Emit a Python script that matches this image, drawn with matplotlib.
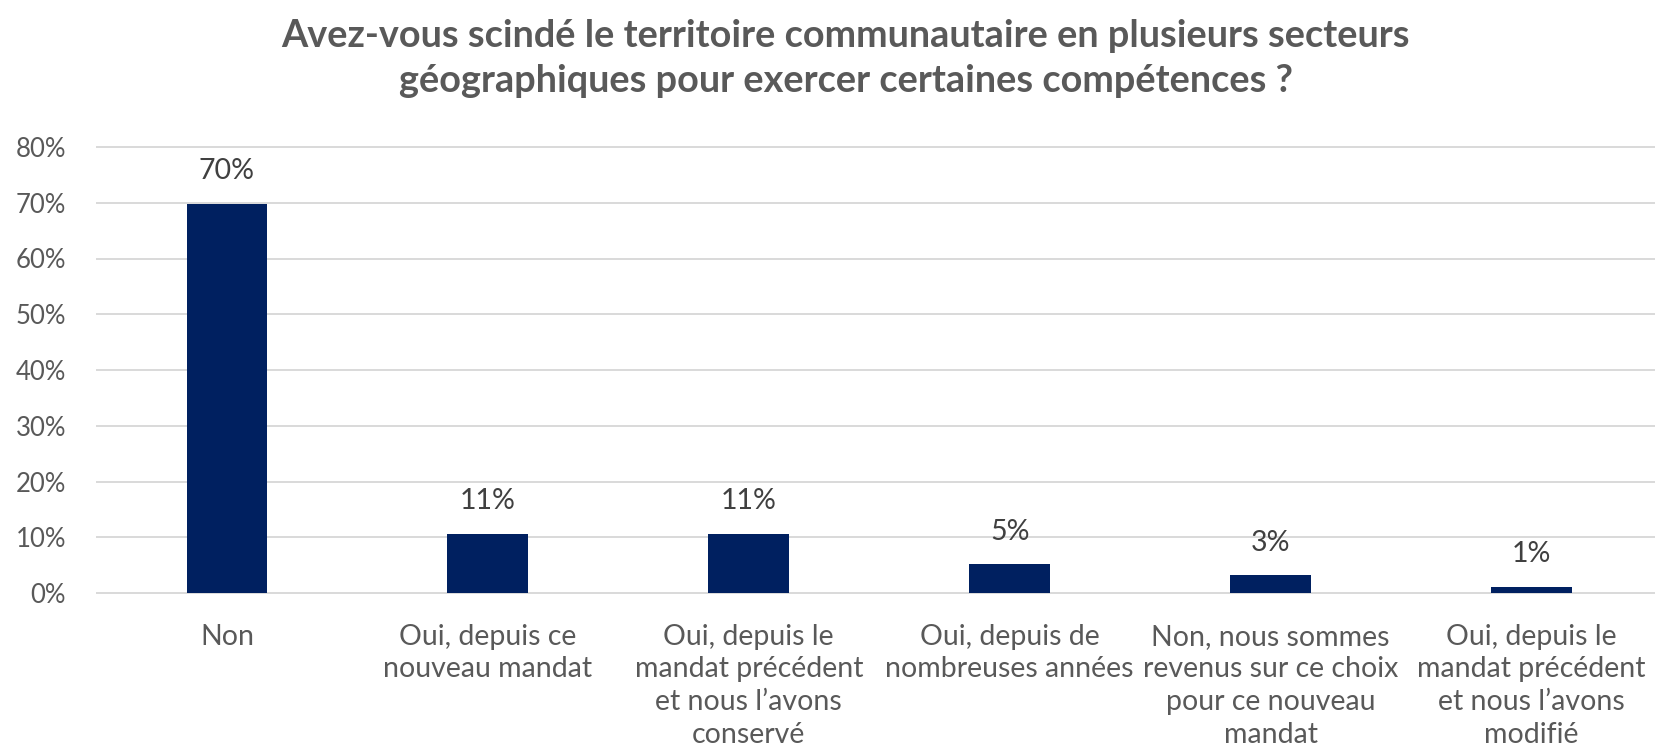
import matplotlib
matplotlib.use("Agg")
import matplotlib.pyplot as plt
from matplotlib.ticker import PercentFormatter

categories = [
    "Non",
    "Oui, depuis ce\nnouveau mandat",
    "Oui, depuis le\nmandat précédent\net nous l\u2019avons\nconservé",
    "Oui, depuis de\nnombreuses années",
    "Non, nous sommes\nrevenus sur ce choix\npour ce nouveau\nmandat",
    "Oui, depuis le\nmandat précédent\net nous l\u2019avons\nmodifié",
]
values = [0.698, 0.106, 0.106, 0.052, 0.032, 0.011]
labels = ["70%", "11%", "11%", "5%", "3%", "1%"]
yticks = [0, 0.1, 0.2, 0.3, 0.4, 0.5, 0.6, 0.7, 0.8]

title = ("Avez-vous scindé le territoire communautaire en plusieurs secteurs\n"
         "géographiques pour exercer certaines compétences ?")

plt.rcParams["font.family"] = ["Lato", "DejaVu Sans"]
grey = "#595959"

W, H = 1655, 756
fig = plt.figure(figsize=(W / 100, H / 100), dpi=100)
ax = fig.add_axes([96.5 / W, 163 / H, 1 - 96.5 / W, 446 / H])

x = range(len(categories))
bars = ax.bar(x, values, width=0.31, color="#002060", zorder=3)

for b, lab in zip(bars, labels):
    ax.annotate(lab, (b.get_x() + b.get_width() / 2, b.get_height()),
                xytext=(0, 14), textcoords="offset points",
                ha="center", va="bottom", fontsize=20.5, color="#404040")

ax.set_xlim(-0.5, 5.473)
ax.set_ylim(0, 0.8)
ax.set_yticks(yticks)
ax.yaxis.set_major_formatter(PercentFormatter(1.0, decimals=0))
ax.set_xticks(list(x))
ax.set_xticklabels(categories, linespacing=1.33, fontsize=20.5)
ax.tick_params(axis="both", length=0, labelcolor=grey)
ax.tick_params(axis="y", pad=22, labelsize=18.5)
ax.tick_params(axis="x", pad=22)

ax.grid(axis="y", color="#d9d9d9", linewidth=1.4, zorder=0)
for ln in ax.get_ygridlines():
    ln.set_clip_on(False)
for s in ax.spines.values():
    s.set_visible(False)

fig.text(0.511, 1 - 58.5 / H, title, ha="center", va="center",
         fontsize=27.3, fontweight="bold", color=grey, linespacing=1.42)

fig.savefig("out.png", dpi=100)
